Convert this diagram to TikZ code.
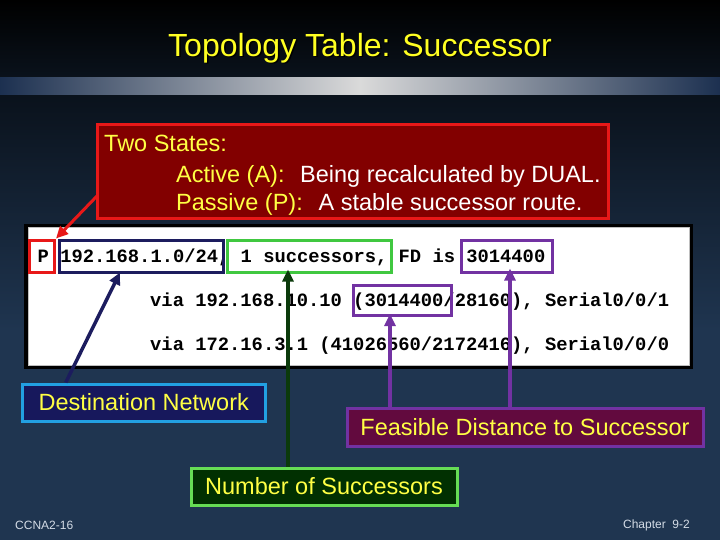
\documentclass[tikz,border=0pt]{standalone}
\usepackage{fontspec}
\setmainfont{Liberation Sans}
\newfontfamily\codefont{Liberation Mono}
\usetikzlibrary{arrows.meta,calc}
\definecolor{bgtop}{HTML}{000000}
\definecolor{bgmid}{HTML}{0A121C}
\definecolor{bgbot}{HTML}{1F3550}
\definecolor{barsilver}{HTML}{DADADA}
\definecolor{barnavy}{HTML}{1C3050}
\definecolor{ttlyellow}{HTML}{FFFF22}
\definecolor{txtyellow}{HTML}{FFFF44}
\definecolor{stfill}{HTML}{820000}
\definecolor{stred}{HTML}{E81818}
\definecolor{navyline}{HTML}{1C1C5E}
\definecolor{greenline}{HTML}{40C840}
\definecolor{purpleline}{HTML}{7232A2}
\definecolor{dkgreen}{HTML}{0B3A0B}
\definecolor{destfill}{HTML}{17185C}
\definecolor{destline}{HTML}{22A0E2}
\definecolor{feasfill}{HTML}{620A3E}
\definecolor{numfill}{HTML}{013001}
\definecolor{numline}{HTML}{66DD55}
\definecolor{footgray}{HTML}{D4DCE6}
\tikzset{
  hlbox/.style={draw, line width=3pt, minimum width=#1, inner sep=0pt, minimum height=32pt},
  labelbox/.style={draw, line width=3pt, inner sep=0pt, text=txtyellow, font=\fontsize{23.5}{26}\selectfont},
  codeline/.style={anchor=base west, inner sep=0pt, font=\codefont\bfseries\fontsize{18.8}{20}\selectfont},
  sttext/.style={anchor=base west, inner sep=0pt, font=\fontsize{23.5}{26}\selectfont},
  ptr/.style={line width=3.5pt, -{Triangle[length=12pt,width=11pt]}},
  foot/.style={inner sep=0pt, text=footgray, font=\fontsize{12}{14}\selectfont}
}
\begin{document}
\begin{tikzpicture}[x=1pt,y=-1pt]
\useasboundingbox (0,0) rectangle (720,540);
% background
\shade[top color=bgtop, bottom color=bgmid] (0,0) rectangle (720,78);
\shade[left color=barnavy, right color=barnavy, middle color=barsilver] (0,78) rectangle (720,96);
\shade[top color=bgmid, bottom color=bgbot] (0,96) rectangle (720,330);
\fill[bgbot] (0,329.5) rectangle (720,540);
% title
\node[text=black, font=\fontsize{32}{34}\selectfont, anchor=base] (titleshadow) at (361.5,58) {Topology Table: Successor};
\node[text=ttlyellow, font=\fontsize{32}{34}\selectfont, anchor=base] (title) at (360,56.5) {Topology Table: Successor};
% states box
\coordinate (rtail) at (97,196);
\node[fill=stfill, draw=stred, line width=3pt, minimum width=511pt, minimum height=94pt, inner sep=0pt] (states) at (352.5,172) {};
\node[sttext, text=txtyellow] (two) at (104,152) {Two States:};
\node[sttext, text=txtyellow] (act) at (176,183) {Active (A):};
\node[sttext, text=white] (actd) at (300,183) {Being recalculated by DUAL.};
\node[sttext, text=txtyellow] (pas) at (176,211) {Passive (P):};
\node[sttext, text=white] (pasd) at (318.5,211) {A stable successor route.};
% code panel
\node[fill=black, minimum width=669pt, minimum height=145pt, inner sep=0pt] (panelout) at (358.5,296.5) {};
\node[fill=white, draw=black!25, line width=1pt, minimum width=661pt, minimum height=137pt, inner sep=0pt] (panel) at (358.5,296.5) {};
\node[codeline] (l1) at (37.5,262) {P 192.168.1.0/24, 1 successors, FD is 3014400};
\node[codeline] (l2) at (150,306) {via 192.168.10.10 (3014400/28160), Serial0/0/1};
\node[codeline] (l3) at (150,350) {via 172.16.3.1 (41026560/2172416), Serial0/0/0};
% highlight boxes
\node[hlbox=25pt, draw=stred] (pbox) at (42,256) {};
\node[hlbox=164pt, draw=navyline] (netbox) at (141,256) {};
\node[hlbox=164pt, draw=greenline] (succbox) at (309,256) {};
\node[hlbox=91pt, draw=purpleline] (fdbox) at (506.5,256) {};
\node[hlbox=98pt, draw=purpleline, minimum height=30pt] (fd2box) at (402,300.5) {};
% label boxes
\node[labelbox, fill=destfill, draw=destline, minimum width=243pt, minimum height=37pt] (dest) at (143.75,402.5) {Destination Network};
\node[labelbox, fill=feasfill, draw=purpleline, minimum width=356pt, minimum height=38pt] (feas) at (525,427) {Feasible Distance to Successor};
\node[labelbox, fill=numfill, draw=numline, minimum width=266pt, minimum height=37pt] (num) at (324,486.5) {Number of Successors};
% arrows
\draw[ptr, stred, line width=3pt] (rtail) -- (pbox.north east);
\draw[ptr, navyline] ([xshift=-78pt]dest.north) -- ([xshift=-21pt,yshift=1pt]netbox.south);
\draw[ptr, dkgreen] ([xshift=-36pt]num.north) -- ([xshift=-21pt,yshift=4pt]succbox.south);
\draw[ptr, purpleline] ([xshift=-135pt]feas.north) -- ([xshift=-12pt,yshift=3pt]fd2box.south);
\draw[ptr, purpleline] ([xshift=-15pt]feas.north) -- ([xshift=3.5pt,yshift=5pt]fdbox.south);
% footer
\node[foot, anchor=base west] (fl) at (15,529) {CCNA2-16};
\node[foot, anchor=base east] (fr) at (690,528) {Chapter\ \ 9-2};
\end{tikzpicture}
\end{document}
